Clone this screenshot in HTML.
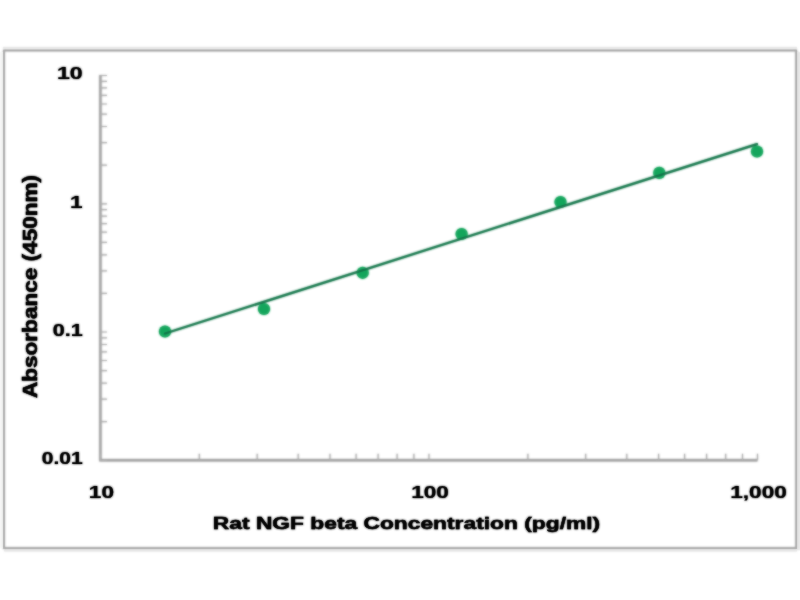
<!DOCTYPE html>
<html><head><meta charset="utf-8"><title>Rat NGF beta standard curve</title>
<style>html,body{margin:0;padding:0;background:#fff;overflow:hidden}svg{display:block}</style></head>
<body>
<svg width="800" height="600" viewBox="0 0 800 600">
<defs><filter id="b1" x="-5%" y="-5%" width="110%" height="110%" color-interpolation-filters="sRGB"><feGaussianBlur in="SourceGraphic" stdDeviation="0.85" result="b"/><feComponentTransfer in="SourceGraphic" result="s"><feFuncA type="linear" slope="0.35"/></feComponentTransfer><feMerge><feMergeNode in="b"/><feMergeNode in="s"/></feMerge></filter><filter id="b3" x="-5%" y="-5%" width="110%" height="110%" color-interpolation-filters="sRGB"><feGaussianBlur in="SourceGraphic" stdDeviation="0.85" result="b"/><feComponentTransfer in="SourceGraphic" result="s"><feFuncA type="linear" slope="0.5"/></feComponentTransfer><feMerge><feMergeNode in="b"/><feMergeNode in="s"/></feMerge></filter><filter id="b2" x="-5%" y="-5%" width="110%" height="110%" color-interpolation-filters="sRGB"><feGaussianBlur in="SourceGraphic" stdDeviation="0.85" result="b"/><feComponentTransfer in="SourceGraphic" result="s"><feFuncA type="linear" slope="0.8"/></feComponentTransfer><feMerge><feMergeNode in="b"/><feMergeNode in="s"/></feMerge></filter></defs>
<rect width="800" height="600" fill="#fff"/>
<g filter="url(#b3)">
<path d="M4 550.6H797M3 48H797" fill="none" stroke="#e6e6e6" stroke-width="2"/>
<rect x="797" y="52" width="4" height="498" fill="#e6e6e6"/>
<rect x="-1" y="52" width="4" height="496" fill="#f5f6f5"/>
<rect x="4" y="50.5" width="792.2" height="497.6" fill="none" stroke="#a2a2a2" stroke-width="1.7"/>
</g>
<g filter="url(#b1)">
<path d="M100.4 75.0V460.3H757.5" fill="none" stroke="#a0a0a0" stroke-width="2.4"/>
<path d="M100.4 460.3h6.5M100.4 421.7h6.5M100.4 399.1h6.5M100.4 383.1h6.5M100.4 370.6h6.5M100.4 360.5h6.5M100.4 351.9h6.5M100.4 344.5h6.5M100.4 337.9h6.5M100.4 332.0h6.5M100.4 293.4h6.5M100.4 270.8h6.5M100.4 254.8h6.5M100.4 242.4h6.5M100.4 232.2h6.5M100.4 223.6h6.5M100.4 216.2h6.5M100.4 209.6h6.5M100.4 203.8h6.5M100.4 165.2h6.5M100.4 142.6h6.5M100.4 126.5h6.5M100.4 114.1h6.5M100.4 104.0h6.5M100.4 95.4h6.5M100.4 87.9h6.5M100.4 81.4h6.5M100.4 75.5h6.5M100.4 460.3v-6.5M199.3 460.3v-6.5M257.2 460.3v-6.5M298.2 460.3v-6.5M330.0 460.3v-6.5M356.1 460.3v-6.5M378.1 460.3v-6.5M397.1 460.3v-6.5M413.9 460.3v-6.5M429.0 460.3v-6.5M527.9 460.3v-6.5M585.7 460.3v-6.5M626.8 460.3v-6.5M658.6 460.3v-6.5M684.6 460.3v-6.5M706.6 460.3v-6.5M725.7 460.3v-6.5M742.5 460.3v-6.5M757.5 460.3v-6.5" stroke="#a8a8a8" stroke-width="1.2" fill="none"/>
</g>
<g filter="url(#b3)">
<circle cx="165" cy="331.5" r="6.1" fill="#14a55c"/>
<circle cx="264" cy="309" r="6.1" fill="#14a55c"/>
<circle cx="362.7" cy="272.8" r="6.1" fill="#14a55c"/>
<circle cx="461.6" cy="234" r="6.1" fill="#14a55c"/>
<circle cx="560.5" cy="202" r="6.1" fill="#14a55c"/>
<circle cx="659.3" cy="172.9" r="6.1" fill="#14a55c"/>
<circle cx="757" cy="151.5" r="6.1" fill="#14a55c"/>
<line x1="165" y1="333.5" x2="757" y2="144.1" stroke="#13764a" stroke-width="2.2" stroke-linecap="round"/>
</g>
<g filter="url(#b2)">
<text transform="translate(82.7,79.3) scale(1.33,1)" text-anchor="end" font-family="Liberation Sans, Arial, sans-serif" font-weight="bold" font-size="17.4" fill="#000" stroke="#000" stroke-width="0.15">10</text>
<text transform="translate(82.7,207.6) scale(1.3,1)" text-anchor="end" font-family="Liberation Sans, Arial, sans-serif" font-weight="bold" font-size="17.4" fill="#000" stroke="#000" stroke-width="0.15">1</text>
<text transform="translate(82.7,335.8) scale(1.24,1)" text-anchor="end" font-family="Liberation Sans, Arial, sans-serif" font-weight="bold" font-size="17.4" fill="#000" stroke="#000" stroke-width="0.15">0.1</text>
<text transform="translate(82.7,464.1) scale(1.21,1)" text-anchor="end" font-family="Liberation Sans, Arial, sans-serif" font-weight="bold" font-size="17.4" fill="#000" stroke="#000" stroke-width="0.15">0.01</text>
<text transform="translate(101.4,498.2) scale(1.3,1)" text-anchor="middle" font-family="Liberation Sans, Arial, sans-serif" font-weight="bold" font-size="17.4" fill="#000" stroke="#000" stroke-width="0.15">10</text>
<text transform="translate(430.0,498.2) scale(1.3,1)" text-anchor="middle" font-family="Liberation Sans, Arial, sans-serif" font-weight="bold" font-size="17.4" fill="#000" stroke="#000" stroke-width="0.15">100</text>
<text transform="translate(758.5,498.2) scale(1.3,1)" text-anchor="middle" font-family="Liberation Sans, Arial, sans-serif" font-weight="bold" font-size="17.4" fill="#000" stroke="#000" stroke-width="0.15">1,000</text>
<text transform="translate(406.5,528.7) scale(1.31,1)" text-anchor="middle" font-family="Liberation Sans, Arial, sans-serif" font-weight="bold" font-size="17.4" fill="#000" stroke="#000" stroke-width="0.4">Rat NGF beta Concentration (pg/ml)</text>
<text transform="translate(37.3,286.5) rotate(-90) scale(1.129,1)" text-anchor="middle" font-family="Liberation Sans, Arial, sans-serif" font-weight="bold" font-size="20" fill="#000" stroke="#000" stroke-width="0.4">Absorbance (450nm)</text>
</g>
</svg>
</body></html>
